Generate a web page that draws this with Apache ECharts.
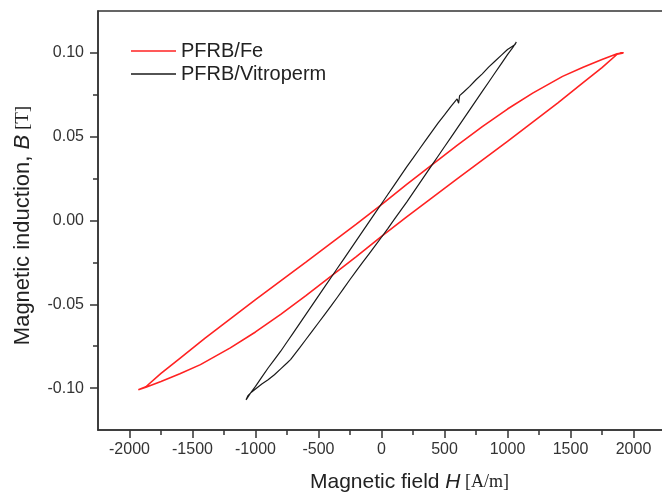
<!DOCTYPE html>
<html>
<head>
<meta charset="utf-8">
<script src="https://cdn.jsdelivr.net/npm/echarts@6/dist/echarts.min.js"></script>
<style>html,body{margin:0;padding:0;background:#fff}#c{width:662px;height:495px}</style>
</head>
<body>
<div id="c"></div>
<script>
const seriesNames = ['PFRB/Fe', 'PFRB/Vitroperm'];
const xMajorTicks = [-2000, -1500, -1000, -500, 0, 500, 1000, 1500, 2000];
const xMinorTicks = [-1750, -1250, -750, -250, 250, 750, 1250, 1750];
const yMajorTicks = [-0.10, -0.05, 0.00, 0.05, 0.10];
const yMinorTicks = [-0.075, -0.025, 0.025, 0.075];

// PFRB/Fe: descending branch then ascending branch [H, B]
const feDown = [
  [1920, 0.1000], [1870, 0.0995], [1750, 0.0960], [1600, 0.0915], [1437, 0.0860],
  [1200, 0.0760], [1000, 0.0665], [800, 0.0560], [600, 0.0448], [400, 0.0332],
  [200, 0.0215], [0, 0.0095], [-200, -0.0022], [-400, -0.0135], [-600, -0.0248],
  [-800, -0.0360], [-1000, -0.0472], [-1200, -0.0587], [-1400, -0.0702],
  [-1600, -0.0822], [-1750, -0.0912], [-1870, -0.0992], [-1930, -0.1010]
];
const feUp = [
  [-1930, -0.1010], [-1870, -0.0995], [-1750, -0.0960], [-1600, -0.0915], [-1437, -0.0860],
  [-1200, -0.0760], [-1000, -0.0665], [-800, -0.0560], [-600, -0.0448], [-400, -0.0332],
  [-200, -0.0215], [0, -0.0095], [200, 0.0022], [400, 0.0135], [600, 0.0248],
  [800, 0.0360], [1000, 0.0472], [1200, 0.0587], [1400, 0.0702], [1600, 0.0822],
  [1750, 0.0912], [1870, 0.0992], [1920, 0.1000]
];
// PFRB/Vitroperm
const vitDown = [
  [1070, 0.1065], [1060, 0.1050], [1050, 0.1060], [1040, 0.1040], [1000, 0.1020],
  [950, 0.0985], [900, 0.0950], [850, 0.0915], [800, 0.0875], [750, 0.0840],
  [700, 0.0800], [650, 0.0765], [620, 0.0745], [612, 0.0700], [600, 0.0725],
  [550, 0.0680], [500, 0.0630], [450, 0.0582], [400, 0.0530], [350, 0.0478],
  [300, 0.0425], [250, 0.0372], [200, 0.0320], [150, 0.0265], [100, 0.0210],
  [50, 0.0155], [0, 0.0100], [-50, 0.0045], [-100, -0.0010], [-150, -0.0065],
  [-200, -0.0120], [-250, -0.0175], [-300, -0.0230], [-350, -0.0285], [-400, -0.0340],
  [-450, -0.0395], [-500, -0.0450], [-550, -0.0505], [-600, -0.0560], [-650, -0.0615],
  [-700, -0.0670], [-750, -0.0725], [-800, -0.0780], [-850, -0.0830], [-900, -0.0880],
  [-950, -0.0935], [-1000, -0.0990], [-1040, -0.1030], [-1075, -0.1070]
];
const vitUp = [
  [-1075, -0.1070], [-1060, -0.1045], [-1050, -0.1055], [-1040, -0.1030], [-1000, -0.1005],
  [-950, -0.0975], [-900, -0.0950], [-850, -0.0920], [-800, -0.0885], [-750, -0.0850],
  [-722, -0.0830], [-650, -0.0760], [-600, -0.0710], [-550, -0.0660], [-500, -0.0610],
  [-450, -0.0560], [-400, -0.0510], [-350, -0.0458], [-300, -0.0405], [-250, -0.0352],
  [-200, -0.0300], [-150, -0.0250], [-100, -0.0200], [-50, -0.0150], [0, -0.0100],
  [50, -0.0048], [100, 0.0005], [150, 0.0058], [200, 0.0110], [250, 0.0165],
  [300, 0.0220], [350, 0.0275], [400, 0.0330], [450, 0.0385], [500, 0.0440],
  [550, 0.0495], [600, 0.0550], [650, 0.0605], [700, 0.0660], [750, 0.0715],
  [800, 0.0770], [850, 0.0825], [900, 0.0880], [950, 0.0935], [1000, 0.0990],
  [1040, 0.1030], [1070, 0.1065]
];

const feLoop = feDown.concat(feUp.slice(1));
const vitLoop = vitDown.concat(vitUp.slice(1));

const axisColor = '#333';
const sans = 'Liberation Sans, Arial, sans-serif';
const serif = 'Liberation Serif, Times New Roman, serif';
const chart = echarts.init(document.getElementById('c'));
chart.setOption({
  animation: false,
  backgroundColor: '#fff',
  grid: { left: 98, top: 11, right: -3, bottom: 65, outerBoundsMode: 'none', containLabel: false, show: true, borderColor: axisColor, borderWidth: 1.5, backgroundColor: 'transparent' },
  legend: {
    orient: 'vertical', left: 126, top: 35, itemWidth: 45, itemHeight: 12, itemGap: 1,
    data: seriesNames.map(n => ({ name: n, icon: 'path://M0,0 L45,0 L45,1.6 L0,1.6 Z' })),
    textStyle: { fontFamily: sans, fontSize: 20, lineHeight: 22, color: '#222' }
  },
  xAxis: [{
    type: 'value', min: -2250, max: 2250, position: 'bottom',
    axisLine: { show: true, onZero: false, lineStyle: { color: axisColor, width: 1.5 } },
    axisTick: { show: true, inside: false, length: 8, customValues: xMajorTicks, lineStyle: { color: axisColor, width: 1.5 } },
    axisLabel: { customValues: xMajorTicks, margin: 12, formatter: v => String(v), fontFamily: sans, fontSize: 16, color: '#333' },
    splitLine: { show: false },
    name: '{n|Magnetic field }{i|H}{s| [A/m]}', nameLocation: 'middle', nameGap: 42,
    nameTextStyle: { padding: [0, 0, 0, 56], rich: {
      n: { fontFamily: sans, fontSize: 21, color: '#222' },
      i: { fontFamily: sans, fontSize: 21, fontStyle: 'italic', color: '#222' },
      s: { fontFamily: serif, fontSize: 18, color: '#222' }
    } }
  }, {
    type: 'value', min: -2250, max: 2250, position: 'bottom',
    axisLine: { show: false, onZero: false }, splitLine: { show: false },
    axisTick: { show: true, inside: false, length: 5, customValues: xMinorTicks, lineStyle: { color: axisColor, width: 1.5 } },
    axisLabel: { show: false }
  }],
  yAxis: [{
    type: 'value', min: -0.125, max: 0.125, position: 'left',
    axisLine: { show: true, onZero: false, lineStyle: { color: axisColor, width: 1.5 } },
    axisTick: { show: true, inside: false, length: 8, customValues: yMajorTicks, lineStyle: { color: axisColor, width: 1.5 } },
    axisLabel: { customValues: yMajorTicks, margin: 14, formatter: v => v.toFixed(2), fontFamily: sans, fontSize: 16, color: '#333' },
    splitLine: { show: false },
    name: '{n|Magnetic induction, }{i|B}{s| [T]}', nameLocation: 'middle', nameGap: 64, nameRotate: 90,
    nameTextStyle: { padding: [0, 10, 0, 0], rich: {
      n: { fontFamily: sans, fontSize: 22, color: '#222' },
      i: { fontFamily: sans, fontSize: 22, fontStyle: 'italic', color: '#222' },
      s: { fontFamily: serif, fontSize: 19, color: '#222' }
    } }
  }, {
    type: 'value', min: -0.125, max: 0.125, position: 'left',
    axisLine: { show: false, onZero: false }, splitLine: { show: false },
    axisTick: { show: true, inside: false, length: 5, customValues: yMinorTicks, lineStyle: { color: axisColor, width: 1.5 } },
    axisLabel: { show: false }
  }],
  series: [{
    name: seriesNames[0], type: 'line', data: feLoop, showSymbol: false, symbol: 'none',
    lineStyle: { color: '#ff2222', width: 1.6 }, itemStyle: { color: '#ff2222' }, z: 2
  }, {
    name: seriesNames[1], type: 'line', data: vitLoop, showSymbol: false, symbol: 'none',
    lineStyle: { color: '#1a1a1a', width: 1.2 }, itemStyle: { color: '#1a1a1a' }, z: 3
  }]
});
</script>
</body>
</html>
